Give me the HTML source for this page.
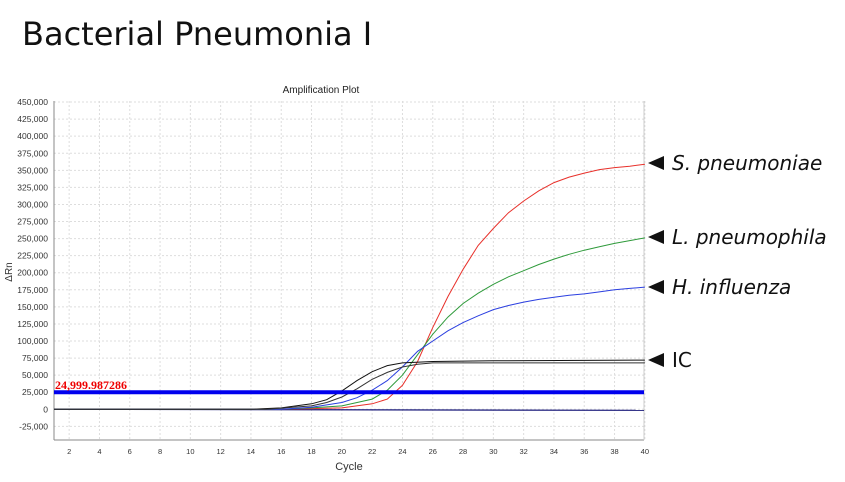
<!DOCTYPE html>
<html><head><meta charset="utf-8"><style>
body{margin:0;background:#fff;width:845px;height:477px;overflow:hidden;font-family:"Liberation Sans",sans-serif}
</style></head><body>
<svg id="s" width="845" height="477" xmlns="http://www.w3.org/2000/svg" font-family="Liberation Sans, sans-serif">
<text x="22" y="45" font-family="DejaVu Sans, sans-serif" font-size="32" fill="#111">Bacterial Pneumonia I</text>
<text x="321" y="93" font-size="10" text-anchor="middle" fill="#222">Amplification Plot</text>
<text x="349" y="470" font-size="11" text-anchor="middle" fill="#333">Cycle</text>
<text transform="translate(12,272) rotate(-90)" font-size="10" text-anchor="middle" fill="#333">ΔRn</text>
<g id="g"></g>
<g font-family="DejaVu Sans, sans-serif" font-size="20" font-style="italic" fill="#111">
<text x="672" y="170">S. pneumoniae</text>
<text x="672" y="244">L. pneumophila</text>
<text x="672" y="294">H. influenza</text>
<text x="672" y="367" font-style="normal">IC</text>
</g>
<g fill="#111">
<polygon points="648,163 664,156 664,170"/>
<polygon points="648,237 664,230 664,244"/>
<polygon points="648,287 664,280 664,294"/>
<polygon points="648,360 664,353 664,367"/>
</g>
</svg>
<script>
var g=document.getElementById('g'),h='';
function X(c){return 54+(c-1)*15.15}
function Y(v){return 409.3-v/25000*17.07}
for(var v=-25000;v<=450000;v+=25000){var y=Y(v);
h+='<line x1="54" x2="644" y1="'+y+'" y2="'+y+'" stroke="#ddd" stroke-dasharray="2,2"/>';
h+='<text x="48" y="'+(y+3)+'" font-size="8.5" text-anchor="end" fill="#333">'+v.toLocaleString('en-US')+'</text>';}
for(var c=2;c<=40;c+=2){var x=X(c);
h+='<line y1="101" y2="440" x1="'+x+'" x2="'+x+'" stroke="#ddd" stroke-dasharray="2,2"/>';
h+='<text x="'+x+'" y="454" font-size="7.5" text-anchor="middle" fill="#333">'+c+'</text>';}
h+='<line x1="54" x2="54" y1="101" y2="440" stroke="#888"/><line x1="54" x2="644" y1="440" y2="440" stroke="#888"/><line x1="644" x2="644" y1="101" y2="440" stroke="#ccc"/>';
function P(pts,col,w){var d='M'+X(1)+' '+Y(0);pts.forEach(function(p){d+=' L'+X(p[0]).toFixed(1)+' '+Y(p[1]*1000).toFixed(1)});h+='<path d="'+d+'" fill="none" stroke="'+col+'" stroke-width="'+(w||1)+'"/>';}
h+='<line x1="54" x2="644" y1="'+Y(0)+'" y2="'+Y(-1500)+'" stroke="#1a1a7a" stroke-width="1.2"/>';
P([[16,0],[18,1],[20,2],[22,8],[23,15],[24,35],[25,70],[26,120],[27,165],[28,205],[29,240],[30,265],[31,288],[32,305],[33,320],[34,332],[35,340],[36,346],[37,351],[38,354],[39,356],[40,359]],'#e8302a');
P([[16,0],[18,2],[20,5],[22,15],[23,28],[24,50],[25,80],[26,110],[27,135],[28,155],[29,170],[30,183],[31,194],[32,203],[33,212],[34,220],[35,227],[36,233],[37,238],[38,243],[39,247],[40,251]],'#2e9a3a');
P([[16,0],[18,3],[20,10],[21,17],[22,28],[23,42],[24,62],[25,85],[26,100],[27,115],[28,127],[29,137],[30,146],[31,152],[32,157],[33,161],[34,164],[35,167],[36,169],[37,172],[38,175],[39,177],[40,179]],'#2b3fe0');
P([[14,0],[16,2],[18,8],[19,14],[20,27],[21,42],[22,55],[23,64],[24,68],[26,70],[30,71],[40,72]],'#111');
P([[15,0],[18,5],[19,10],[20,18],[21,30],[22,44],[23,54],[24,62],[25,66],[26,68],[40,68]],'#333');
h+='<line x1="54" x2="644" y1="'+Y(25000)+'" y2="'+Y(25000)+'" stroke="#0000ee" stroke-width="4"/>';
h+='<text x="55" y="'+(Y(25000)-3)+'" font-family="Liberation Serif, serif" font-weight="bold" font-size="12" fill="#e00">24,999.987286</text>';
g.innerHTML=h;
</script>
</body></html>
